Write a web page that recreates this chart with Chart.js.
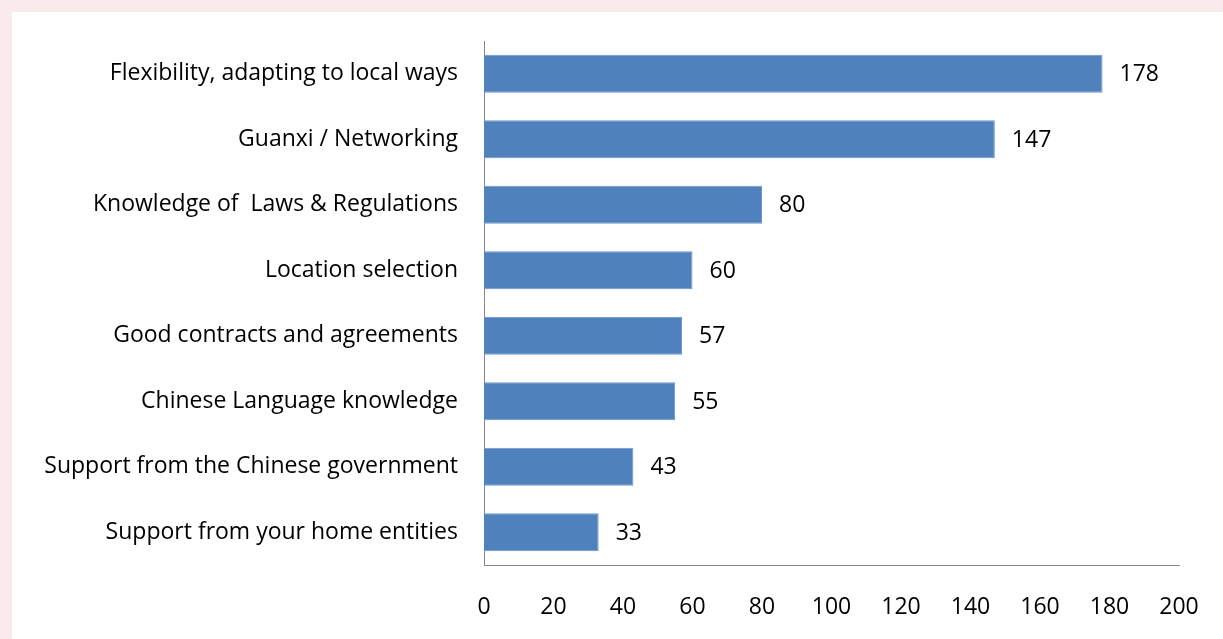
<!DOCTYPE html>
<html>
<head>
<meta charset="utf-8">
<script src="https://cdn.jsdelivr.net/npm/chart.js@4"></script>
<style>
    html, body { margin: 0; padding: 0; background: #f9ebeb; }
    #frame { position: absolute; left: 12px; top: 12px; width: 1211px; height: 627px; background: #ffffff; }
</style>
</head>
<body>
<div id="frame"><canvas id="factorsCanvas" width="1211" height="627"></canvas></div>
<script>
const categories = [
    'Flexibility, adapting to local ways',
    'Guanxi / Networking',
    'Knowledge of  Laws & Regulations',
    'Location selection',
    'Good contracts and agreements',
    'Chinese Language knowledge',
    'Support from the Chinese government',
    'Support from your home entities'
];
const counts = [178, 147, 80, 60, 57, 55, 43, 33];
const xTicks = [0, 20, 40, 60, 80, 100, 120, 140, 160, 180, 200];

const fontFamily = '"Open Sans", "Liberation Sans", sans-serif';
const fontSize = 23;

// draws the value next to every bar
const valueLabels = {
    id: 'valueLabels',
    afterDatasetsDraw(chart) {
        const c = chart.ctx;
        const meta = chart.getDatasetMeta(0);
        c.save();
        c.font = fontSize + 'px ' + fontFamily;
        c.fillStyle = '#000000';
        c.textAlign = 'left';
        c.textBaseline = 'middle';
        meta.data.forEach((bar, i) => {
            c.fillText(String(chart.data.datasets[0].data[i]), bar.x + 17, bar.y + 1);
        });
        c.restore();
    }
};

new Chart(document.getElementById('factorsCanvas').getContext('2d'), {
    type: 'bar',
    data: {
        labels: categories,
        datasets: [{
            data: counts,
            backgroundColor: '#4f81bd',
            borderColor: '#6b96cc',
            borderWidth: 1,
            barPercentage: 0.58,
            categoryPercentage: 1
        }]
    },
    options: {
        indexAxis: 'y',
        responsive: false,
        animation: false,
        layout: { padding: { top: 29, right: 44, bottom: 0, left: 0 } },
        plugins: {
            legend: { display: false },
            tooltip: { enabled: false }
        },
        scales: {
            x: {
                min: 0,
                max: 200,
                afterBuildTicks: scale => { scale.ticks = xTicks.map(v => ({ value: v })); },
                afterFit: scale => {
                    scale.height = 74;
                    scale.paddingLeft = 0;
                    scale.paddingRight = 0;
                },
                grid: { display: false, drawTicks: false },
                border: { color: '#868686', width: 1 },
                ticks: {
                    padding: 29,
                    color: '#000000',
                    font: { family: fontFamily, size: fontSize },
                    maxRotation: 0
                }
            },
            y: {
                afterFit: scale => {
                    scale.width = 472;
                    scale.paddingTop = 0;
                    scale.paddingBottom = 0;
                },
                grid: { display: false, drawTicks: false },
                border: { color: '#868686', width: 1 },
                ticks: {
                    padding: 26,
                    color: '#000000',
                    font: { family: fontFamily, size: fontSize }
                }
            }
        }
    },
    plugins: [valueLabels]
});
</script>
</body>
</html>
